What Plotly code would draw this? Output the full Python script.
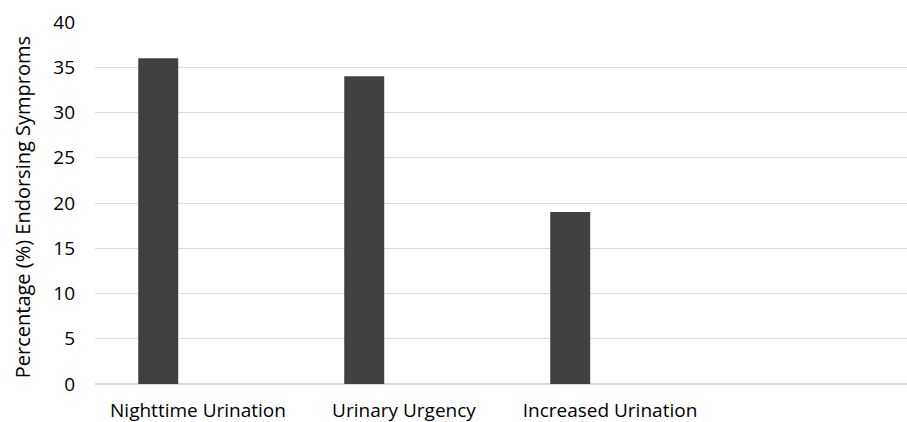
import plotly.graph_objects as go

# Symptom categories and share of respondents endorsing each one
categories = ["Nighttime Urination", "Urinary Urgency", "Increased Urination"]
percent_endorsing = [36, 34, 19]

y_ticks = [0, 5, 10, 15, 20, 25, 30, 35, 40]
y_title = "Percentage (%) Endorsing Symproms"

FONT = "Open Sans"
TEXT_COLOR = "#000000"

fig = go.Figure(
    go.Bar(
        x=categories,
        y=percent_endorsing,
        marker=dict(color="#404040", line=dict(width=0)),
        width=0.194,
        offset=-0.29,
        showlegend=False,
    )
)

fig.update_layout(
    width=907,
    height=422,
    margin=dict(l=95, r=0, t=22, b=38, autoexpand=False),
    paper_bgcolor="white",
    plot_bgcolor="white",
    font=dict(family=FONT, size=19, color=TEXT_COLOR),
)

fig.update_xaxes(
    type="category",
    categoryorder="array",
    categoryarray=categories,
    range=[-0.5, 3.442],
    showgrid=False,
    showline=False,
    zeroline=False,
    ticks="",
    ticklabelstandoff=13,
    tickfont=dict(family=FONT, size=19, color=TEXT_COLOR),
)

fig.update_yaxes(
    range=[0, 40],
    tickvals=y_ticks,
    showgrid=True,
    gridcolor="#d9d9d9",
    gridwidth=1,
    zeroline=True,
    zerolinecolor="#d9d9d9",
    zerolinewidth=1.5,
    showline=False,
    ticks="",
    ticklabelstandoff=19,
    tickfont=dict(family=FONT, size=19, color=TEXT_COLOR),
)

# Vertical axis title, placed close to the left edge
fig.add_annotation(
    text=y_title,
    textangle=-90,
    xref="paper",
    yref="paper",
    x=-0.09,
    y=0.488,
    xanchor="center",
    yanchor="middle",
    showarrow=False,
    font=dict(family=FONT, size=20, color=TEXT_COLOR),
)

fig.write_html("out.html")
